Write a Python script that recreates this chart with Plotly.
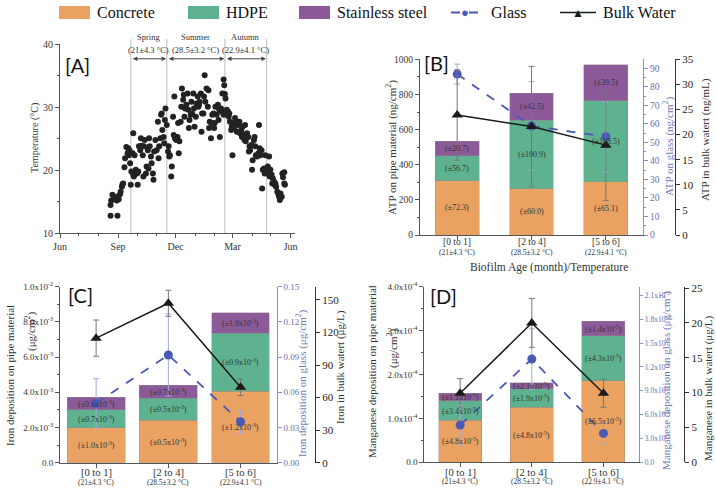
import plotly.graph_objects as go

W, H = 716, 489

# ---------------- Panel A data ----------------
temp_days = [80, 91, 80, 81, 83, 85, 88, 90, 92, 93, 95, 96, 98, 99, 100, 102, 103, 105, 107, 108, 109, 110, 111, 112, 113, 115, 116, 117, 118, 120,
             116, 122, 123, 124, 125, 127, 128, 129, 131, 132, 133, 134, 136, 137, 139, 140, 141, 142, 144, 145, 147, 148, 149, 151, 153, 155, 156, 157, 159, 160, 161, 162, 164, 165, 166, 167, 169,
             171, 172, 173, 174, 176, 177, 179, 180, 181, 182, 184, 186, 187, 188, 189, 191, 192, 193, 195, 196, 197, 198, 200, 202, 203, 204, 205, 207, 208, 209, 211, 212, 213, 215, 216, 218, 219, 220, 221, 223, 224, 225, 227, 228, 229, 230, 232, 234, 235, 236, 237, 239, 240, 241, 243, 244, 245, 246, 248, 250, 251, 252, 253, 255, 256, 257, 258, 259,
             259, 260, 261, 262, 264, 266, 267, 268, 269, 271, 272, 273, 275, 276, 277, 278, 280, 282, 283, 284, 285, 287, 288, 289, 291, 292, 293, 294, 296, 298, 299, 300, 301, 303, 304, 305, 307, 308, 309, 310, 312, 314, 315, 316, 317, 319, 320, 321, 323, 324, 325, 326,
             328, 329, 331, 331, 332, 333, 335, 336, 337, 339, 340, 341, 342, 344, 346, 347, 348, 349, 351, 352, 353, 355, 356, 355]
temp_vals = [12.8, 12.8, 14.5, 15.2, 16.1, 15.4, 15.8, 15.2, 15.6, 15.4, 16.2, 16.6, 17.4, 17.8, 17.9, 20.5, 21.9, 23.7, 22.7, 23.5, 22.4, 23.2, 21.1, 17.7, 19.8, 22.7, 19.3, 19.0, 22.4, 20.1,
             25.9, 19.5, 17.7, 19.8, 23.8, 23.2, 25.1, 23.9, 22.4, 19.0, 23.8, 24.8, 19.5, 20.6, 23.2, 20.3, 25.1, 23.8, 22.2, 21.1, 19.5, 18.5, 23.0, 24.8, 23.2, 27.7, 21.9, 23.8, 25.1, 28.8, 29.0, 26.4, 25.3, 24.3, 28.0, 29.8, 27.2,
             23.0, 23.8, 22.2, 22.4, 19.0, 20.6, 28.5, 25.6, 31.7, 25.1, 24.8, 25.3, 27.5, 22.7, 24.6, 27.7, 30.1, 33.0, 31.2, 32.0, 28.5, 29.8, 30.4, 32.2, 29.6, 26.7, 28.0, 28.8, 30.9, 29.0, 32.2, 29.8, 26.9, 28.5, 30.6, 31.7, 30.1, 30.4, 30.9, 32.2, 26.1, 29.0, 29.0, 31.7, 35.1, 30.9, 33.0, 30.1, 32.7, 26.7, 27.7, 25.1, 27.5, 28.8, 29.0, 26.7, 27.5, 30.1, 28.8, 30.4, 28.0, 29.6, 25.3, 29.8, 29.3, 32.2, 29.3, 28.8,
             34.4, 33.5, 32.1, 31.4, 29.6, 29.3, 28.5, 29.0, 27.7, 26.4, 26.9, 22.4, 27.5, 26.7, 28.3, 27.5, 26.1, 27.7, 27.2, 27.7, 25.9, 26.4, 25.3, 26.9, 25.6, 24.8, 27.2, 24.6, 25.9, 25.3, 23.0, 23.8, 23.2, 24.0, 20.1, 21.6, 24.8, 25.3, 23.8, 22.4, 22.2, 22.7, 27.2, 23.5, 22.4, 23.2, 17.1, 20.1, 20.3, 19.5, 22.4, 19.8,
             19.5, 20.6, 19.8, 22.2, 19.0, 20.1, 19.3, 17.9, 18.7, 18.2, 17.7, 17.9, 17.4, 16.6, 16.1, 15.8, 15.3, 16.3, 15.8, 19.5, 18.9, 17.9, 17.7, 19.7]
season_names = ["Spring", "Summer", "Autumn"]
season_temps = ["(21±4.3 °C)", "(28.5±3.2 °C)", "(22.9±4.1 °C)"]
season_bounds = [112, 169, 261, 327]
month_tickvals = [0, 92, 183, 273, 365]
month_ticktext = ["Jun", "Sep", "Dec", "Mar", "Jun"]
month_minor = [30, 61, 122, 153, 214, 245, 304, 334]

# ---------------- Shared categories ----------------
categories = ["[0 to 1]", "[2 to 4]", "[5 to 6]"]
cat_temps = ["(21±4.3 °C)", "(28.5±3.2 °C)", "(22.9±4.1 °C)"]

# ---------------- Panel B (ATP) ----------------
atp_concrete = [309, 264, 302]
atp_hdpe = [142, 390, 461]
atp_ss = [84, 152, 207]
atp_concrete_lbl = ["(±72.3)", "(±60.0)", "(±65.1)"]
atp_hdpe_lbl = ["(±56.7)", "(±100.9)", "(±108.5)"]
atp_ss_lbl = ["(±20.7)", "(±42.5)", "(±39.5)"]
atp_glass = [86.9, 58.9, 53.1]
atp_glass_err = [5.4, 24, 19]
atp_bulk = [23.9, 21.6, 17.9]
atp_bulk_err = [9, 12, 11]

# ---------------- Panel C (Iron) ----------------
fe_concrete = [2.0e-3, 2.4e-3, 4.05e-3]
fe_hdpe = [1.0e-3, 1.27e-3, 3.3e-3]
fe_ss = [0.72e-3, 0.72e-3, 1.17e-3]
fe_concrete_lbl = ["(±1.0x10<sup>-3</sup>)", "(±0.5x10<sup>-3</sup>)", "(±1.2x10<sup>-3</sup>)"]
fe_hdpe_lbl = ["(±0.7x10<sup>-3</sup>)", "(±0.5x10<sup>-3</sup>)", "(±0.9x10<sup>-3</sup>)"]
fe_ss_lbl = ["(±0.6x10<sup>-3</sup>)", "(±0.7x10<sup>-3</sup>)", "(±1.0x10<sup>-3</sup>)"]
fe_glass = [0.0506, 0.0918, 0.0349]
fe_glass_err = [0.021, 0.035, 0.0095]
fe_bulk = [114.8, 146.9, 69.5]
fe_bulk_err = [16.7, 12, 7.6]

# ---------------- Panel D (Manganese) ----------------
mn_concrete = [0.96e-4, 1.25e-4, 1.86e-4]
mn_hdpe = [0.44e-4, 0.42e-4, 1.02e-4]
mn_ss = [0.17e-4, 0.14e-4, 0.33e-4]
mn_concrete_lbl = ["(±4.8x10<sup>-5</sup>)", "(±4.8x10<sup>-5</sup>)", "(±6.5x10<sup>-5</sup>)"]
mn_hdpe_lbl = ["(±3.4x10<sup>-5</sup>)", "(±1.9x10<sup>-5</sup>)", "(±4.3x10<sup>-5</sup>)"]
mn_ss_lbl = ["(±1.1x10<sup>-5</sup>)", "(±2.1x10<sup>-5</sup>)", "(±1.4x10<sup>-5</sup>)"]
mn_glass = [0.00468, 0.0130, 0.00364]
mn_glass_err = [0.0025, 0.0038, 0.00125]
mn_bulk = [9.9, 20.0, 9.9]
mn_bulk_err = [2.1, 3.5, 2.0]

# ---------------- Tick labels ----------------
fe_left_vals = [0, 2e-3, 4e-3, 6e-3, 8e-3, 1e-2]
fe_left_text = ["0.0", "2.0x10<sup>-3</sup>", "4.0x10<sup>-3</sup>", "6.0x10<sup>-3</sup>", "8.0x10<sup>-3</sup>", "1.0x10<sup>-2</sup>"]
fe_glass_vals = [0, 0.03, 0.06, 0.09, 0.12, 0.15]
fe_glass_text = ["0.00", "0.03", "0.06", "0.09", "0.12", "0.15"]
fe_bulk_vals = [0, 30, 60, 90, 120, 150]
mn_left_vals = [0, 1e-4, 2e-4, 3e-4, 4e-4]
mn_left_text = ["0.0", "1.0x10<sup>-4</sup>", "2.0x10<sup>-4</sup>", "3.0x10<sup>-4</sup>", "4.0x10<sup>-4</sup>"]
mn_glass_vals = [0, 0.003, 0.006, 0.009, 0.012, 0.015, 0.018, 0.021]
mn_glass_text = ["0.0", "3.0x10<sup>-3</sup>", "6.0x10<sup>-3</sup>", "9.0x10<sup>-3</sup>", "1.2x10<sup>-2</sup>",
                 "1.5x10<sup>-2</sup>", "1.8x10<sup>-2</sup>", "2.1x10<sup>-2</sup>"]
mn_bulk_vals = [0, 5, 10, 15, 20, 25]

# ---------------- Styling ----------------
SERIF = "Liberation Serif"
C_CONC = "#E9A262"
C_HDPE = "#5EB28F"
C_SS = "#8C5A98"
C_GLASS = "#4A58B6"
C_GLASS_AX = "#8A8FC6"
C_GLASS_ERR = "#A3A8D8"
C_BULK = "#1a1a1a"
C_AX = "#555555"
C_TXT = "#333333"


def px(x):
    return x / W


def py(y):
    return 1 - y / H


fig = go.Figure()
annotations = []
shapes = []

# ---------------- Panel A ----------------
fig.add_trace(go.Scatter(x=temp_days, y=temp_vals, mode="markers",
                         marker=dict(size=6, color="#222222"), xaxis="x", yaxis="y",
                         showlegend=False, cliponaxis=False))

for b in season_bounds:
    shapes.append(dict(type="line", xref="x", yref="paper", x0=b, x1=b,
                       y0=py(233.3), y1=py(39), line=dict(color="#c8c8c8", width=1.2), layer="below"))
for i in range(3):
    x0, x1 = season_bounds[i], season_bounds[i + 1]
    annotations.append(dict(x=x1 - 1, y=37.7, ax=x0 + 1, ay=37.7, xref="x", yref="y", axref="x", ayref="y",
                            text="", showarrow=True, arrowhead=2, startarrowhead=2, arrowside="end+start",
                            arrowsize=0.9, arrowwidth=1, arrowcolor="#444444"))
    xm = (x0 + x1) / 2
    annotations.append(dict(x=xm, y=py(37), xref="x", yref="paper", text=season_names[i], showarrow=False,
                            font=dict(family=SERIF, size=8.5, color=C_TXT), xanchor="center", yanchor="middle"))
    annotations.append(dict(x=xm, y=py(50), xref="x", yref="paper", text=season_temps[i], showarrow=False,
                            font=dict(family=SERIF, size=8.5, color=C_TXT), xanchor="center", yanchor="middle"))


def add_bar_panel(xa, ya, yg, yb, conc, hdpe, ss, lc, lh, ls, glass, gerr, bulk, berr, width,
                  cat_y, temp_y, cat_size):
    xs = [0, 1, 2]
    for vals, col, name in [(conc, C_CONC, "Concrete"), (hdpe, C_HDPE, "HDPE"), (ss, C_SS, "Stainless steel")]:
        fig.add_trace(go.Bar(x=xs, y=vals, marker=dict(color=col, line=dict(color="rgba(140,140,140,0.7)", width=0.6)),
                             width=width, xaxis=xa, yaxis=ya, showlegend=False, name=name))
    for i in xs:
        c0 = 0
        for vals, lbls in [(conc, lc), (hdpe, lh), (ss, ls)]:
            mid = c0 + vals[i] / 2
            annotations.append(dict(x=i, y=mid, xref=xa, yref=ya, text=lbls[i], showarrow=False,
                                    font=dict(family=SERIF, size=8, color=C_TXT)))
            c0 += vals[i]
        annotations.append(dict(x=i, y=py(cat_y), xref=xa, yref="paper", text=categories[i], showarrow=False,
                                xanchor="center", yanchor="middle", font=dict(family=SERIF, size=cat_size, color=C_TXT)))
        annotations.append(dict(x=i, y=py(temp_y), xref=xa, yref="paper", text=cat_temps[i], showarrow=False,
                                xanchor="center", yanchor="middle", font=dict(family=SERIF, size=7.5, color=C_TXT)))
    fig.add_trace(go.Scatter(x=xs, y=glass, mode="lines+markers", xaxis=xa, yaxis=yg, showlegend=False,
                             line=dict(color=C_GLASS, width=1.8, dash="dash"),
                             marker=dict(symbol="circle", size=9, color=C_GLASS),
                             error_y=dict(type="data", array=gerr, color=C_GLASS_ERR, thickness=1, width=3),
                             cliponaxis=False))
    fig.add_trace(go.Scatter(x=xs, y=bulk, mode="lines+markers", xaxis=xa, yaxis=yb, showlegend=False,
                             line=dict(color=C_BULK, width=1.5),
                             marker=dict(symbol="triangle-up", size=10, color=C_BULK),
                             error_y=dict(type="data", array=berr, color="#777777", thickness=1, width=3),
                             cliponaxis=False))


add_bar_panel("x2", "y2", "y3", "y4", atp_concrete, atp_hdpe, atp_ss, atp_concrete_lbl, atp_hdpe_lbl, atp_ss_lbl,
              atp_glass, atp_glass_err, atp_bulk, atp_bulk_err, 0.59, 242, 252.5, 9.5)
add_bar_panel("x3", "y5", "y6", "y7", fe_concrete, fe_hdpe, fe_ss, fe_concrete_lbl, fe_hdpe_lbl, fe_ss_lbl,
              fe_glass, fe_glass_err, fe_bulk, fe_bulk_err, 0.8, 472.5, 482.5, 10.5)
add_bar_panel("x4", "y8", "y9", "y10", mn_concrete, mn_hdpe, mn_ss, mn_concrete_lbl, mn_hdpe_lbl, mn_ss_lbl,
              mn_glass, mn_glass_err, mn_bulk, mn_bulk_err, 0.6, 472, 481.5, 10.5)

# ---------------- Axes ----------------
base_ax = dict(showgrid=False, zeroline=False, showline=True, linecolor=C_AX, linewidth=1, automargin=False,
               ticks="outside", ticklen=4, tickcolor=C_AX, tickfont=dict(family=SERIF, size=10, color=C_TXT))


def ax(**kw):
    d = dict(base_ax)
    d.update(kw)
    return d


def glass_ax(**kw):
    d = ax(linecolor=C_GLASS_AX, tickcolor=C_GLASS_AX, tickfont=dict(family=SERIF, size=9.5, color="#6B70B0"))
    d.update(kw)
    return d


def bulk_ax(**kw):
    d = ax(linecolor="#333333", tickcolor="#333333", tickfont=dict(family=SERIF, size=11, color="#222222"))
    d.update(kw)
    return d


LEFT_FONT = dict(family=SERIF, size=9, color=C_TXT)

xdomA = [px(60), px(295)]
ydomA = [py(233.3), py(44.3)]
xdomB = [px(420), px(643)]
ydomB = [py(235), py(59.3)]
xdomC = [px(60), px(276.7)]
ydomC = [py(462.7), py(286.7)]
xdomD = [px(424.3), px(639.3)]
ydomD = [py(462.3), py(286.7)]

layout_axes = dict(
    xaxis=ax(domain=xdomA, anchor="y", range=[0, 372], tickmode="array", tickvals=month_tickvals,
             ticktext=month_ticktext, minor=dict(tickvals=month_minor, ticks="outside", ticklen=2, tickcolor=C_AX)),
    yaxis=ax(domain=ydomA, anchor="x", range=[10, 40], tickvals=[10, 20, 30, 40],
             minor=dict(tickvals=[15, 25, 35], ticks="outside", ticklen=2, tickcolor=C_AX)),
    xaxis2=ax(domain=xdomB, anchor="y2", range=[-0.5, 2.5], tickmode="array", tickvals=[0, 1, 2],
              showticklabels=False),
    yaxis2=ax(domain=ydomB, anchor="x2", range=[0, 1000], tickvals=[0, 200, 400, 600, 800, 1000],
              tickfont=dict(family=SERIF, size=9.5, color=C_TXT),
              minor=dict(tickvals=[100, 300, 500, 700, 900], ticks="outside", ticklen=2, tickcolor=C_AX)),
    yaxis3=glass_ax(overlaying="y2", side="right", anchor="x2", range=[0, 94.9],
                    tickvals=list(range(0, 91, 10)),
                    minor=dict(tickvals=list(range(5, 95, 10)), ticks="outside", ticklen=2, tickcolor=C_GLASS_AX)),
    yaxis4=bulk_ax(overlaying="y2", side="right", anchor="free", position=px(675), range=[0, 35],
                   tickvals=[0, 5, 10, 15, 20, 25, 30, 35]),
    xaxis3=ax(domain=xdomC, anchor="y5", range=[-0.5, 2.5], tickmode="array", tickvals=[0, 1, 2],
              showticklabels=False),
    yaxis5=ax(domain=ydomC, anchor="x3", range=[0, 0.01], tickvals=fe_left_vals, ticktext=fe_left_text,
              tickfont=LEFT_FONT,
              minor=dict(tickvals=[1e-3, 3e-3, 5e-3, 7e-3, 9e-3], ticks="outside", ticklen=2, tickcolor=C_AX)),
    yaxis6=glass_ax(overlaying="y5", side="right", anchor="x3", range=[0, 0.15], tickvals=fe_glass_vals,
                    ticktext=fe_glass_text, tickfont=dict(family=SERIF, size=9, color="#6B70B0")),
    yaxis7=bulk_ax(overlaying="y5", side="right", anchor="free", position=px(315), range=[0, 162.2],
                   tickvals=fe_bulk_vals),
    xaxis4=ax(domain=xdomD, anchor="y8", range=[-0.5, 2.5], tickmode="array", tickvals=[0, 1, 2],
              showticklabels=False),
    yaxis8=ax(domain=ydomD, anchor="x4", range=[0, 4e-4], tickvals=mn_left_vals, ticktext=mn_left_text,
              tickfont=LEFT_FONT,
              minor=dict(tickvals=[0.5e-4, 1.5e-4, 2.5e-4, 3.5e-4], ticks="outside", ticklen=2, tickcolor=C_AX)),
    yaxis9=glass_ax(overlaying="y8", side="right", anchor="x4", range=[0, 0.0221], tickvals=mn_glass_vals,
                    ticktext=mn_glass_text, ticklen=3, tickfont=dict(family=SERIF, size=7.5, color="#6B70B0")),
    yaxis10=bulk_ax(overlaying="y8", side="right", anchor="free", position=px(684.3), range=[0, 25.2],
                    tickvals=mn_bulk_vals),
)


# ---------------- Axis titles (annotations) ----------------
def vtitle(x, y, text, size=11, color=C_TXT):
    annotations.append(dict(x=px(x), y=py(y), xref="paper", yref="paper", text=text, textangle=-90,
                            showarrow=False, xanchor="center", yanchor="middle",
                            font=dict(family=SERIF, size=size, color=color)))


vtitle(35, 138, "Temperature (°C)", 10)
vtitle(391, 148, "ATP on pipe material (ng/cm<sup>2</sup>)", 11)
vtitle(668, 147, "ATP on glass (ng/cm<sup>2</sup>)", 11, "#7378B8")
vtitle(705, 140, "ATP in bulk watert (ng/mL)", 11)
vtitle(10, 376, "Iron deposition on pipe material", 11)
vtitle(30, 331, "(μg/cm<sup>2</sup>)", 11)
vtitle(301, 383, "Iron deposition on glass (μg/cm<sup>2</sup>)", 11, "#7378B8")
vtitle(340, 367, "Iron in bulk watert (μg/L)", 11)
vtitle(372, 371, "Manganese deposition on pipe material", 11)
vtitle(392, 349, "(μg/cm<sup>2</sup>)", 11)
vtitle(665, 381, "Manganese deposition on glass (μg/cm<sup>2</sup>)", 11, "#7378B8")
vtitle(708, 388, "Manganese in bulk watert (μg/L)", 11)

annotations.append(dict(x=px(549), y=py(267), xref="paper", yref="paper", text="Biofilm Age (month)/Temperature",
                        showarrow=False, xanchor="center", yanchor="middle",
                        font=dict(family=SERIF, size=11.5, color=C_TXT)))

# Panel labels
for lbl, x, y in [("[A]", 63, 65), ("[B]", 422, 63), ("[C]", 66, 295), ("[D]", 428, 296)]:
    annotations.append(dict(x=px(x), y=py(y), xref="paper", yref="paper", text=lbl, showarrow=False,
                            xanchor="left", yanchor="middle", font=dict(family="Lato", size=20, color="#111111")))

# ---------------- Legend (manual) ----------------
leg_y = 12.5
for x0, col, text in [(59, C_CONC, "Concrete"), (188, C_HDPE, "HDPE"), (299, C_SS, "Stainless steel")]:
    shapes.append(dict(type="rect", xref="paper", yref="paper", x0=px(x0), x1=px(x0 + 31),
                       y0=py(leg_y + 6.5), y1=py(leg_y - 6.5), fillcolor=col, line=dict(width=0)))
    annotations.append(dict(x=px(x0 + 36), y=py(leg_y), xref="paper", yref="paper", text=text, showarrow=False,
                            xanchor="left", yanchor="middle", font=dict(family=SERIF, size=16, color="#111111")))
shapes.append(dict(type="line", xref="paper", yref="paper", x0=px(451), x1=px(479), y0=py(leg_y), y1=py(leg_y),
                   line=dict(color=C_GLASS, width=1.8, dash="dash")))
annotations.append(dict(x=px(465), y=py(leg_y), xref="paper", yref="paper", text="●", showarrow=False,
                        xanchor="center", yanchor="middle", font=dict(size=13, color=C_GLASS)))
annotations.append(dict(x=px(489), y=py(leg_y), xref="paper", yref="paper", text="Glass", showarrow=False,
                        xanchor="left", yanchor="middle", font=dict(family=SERIF, size=16, color="#111111")))
shapes.append(dict(type="line", xref="paper", yref="paper", x0=px(560), x1=px(596), y0=py(leg_y), y1=py(leg_y),
                   line=dict(color=C_BULK, width=1.5)))
annotations.append(dict(x=px(578), y=py(leg_y), xref="paper", yref="paper", text="▲", showarrow=False,
                        xanchor="center", yanchor="middle", font=dict(size=12, color=C_BULK)))
annotations.append(dict(x=px(601), y=py(leg_y), xref="paper", yref="paper", text="Bulk Water", showarrow=False,
                        xanchor="left", yanchor="middle", font=dict(family=SERIF, size=16, color="#111111")))

fig.update_layout(
    template="none",
    width=W, height=H, margin=dict(l=0, r=0, t=0, b=0, pad=0),
    paper_bgcolor="white", plot_bgcolor="white",
    barmode="stack", showlegend=False, hovermode=False,
    annotations=annotations, shapes=shapes,
    font=dict(family=SERIF, color=C_TXT),
    **layout_axes,
)

fig.write_html("out.html",
               config={"displayModeBar": False, "staticPlot": True},
               post_script="document.body.style.margin='0px';document.body.style.padding='0px';"
                           "document.documentElement.style.overflow='hidden';")
